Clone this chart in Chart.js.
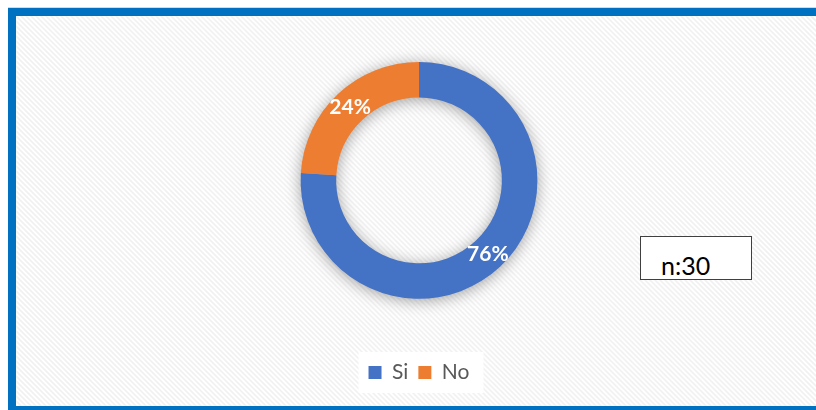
<!DOCTYPE html>
<html>
<head>
<meta charset="utf-8">
<script src="https://cdn.jsdelivr.net/npm/chart.js@4"></script>
<style>
    html, body { margin: 0; padding: 0; background: #fff; overflow: hidden; }
    #wrap { position: relative; width: 816px; height: 410px; overflow: hidden; }
    #chart { position: absolute; left: 0; top: 0; }
    #note {
        position: absolute; left: 640px; top: 236px; width: 110px; height: 42px;
        border: 1.5px solid #404040; background: #fff;
        font-family: Lato, "Open Sans", sans-serif; font-size: 25px; line-height: 30px;
        color: #000;
    }
    #note span { position: absolute; left: 20px; top: 13px; }
</style>
</head>
<body>
<div id="wrap">
    <canvas id="chart" width="816" height="410"></canvas>
    <div id="note"><span>n:30</span></div>
</div>
<script>
const categories = ['Si', 'No'];
const values = [76, 24];
const colors = ['#4472C4', '#ED7D31'];

// hatched plot background, white legend panel, ring shadow, labels, frame
const decorPlugin = {
    id: 'decor',
    beforeDraw(chart) {
        const ctx = chart.ctx;
        ctx.save();
        ctx.beginPath();
        ctx.rect(16, 16, 800, 390);
        ctx.clip();
        ctx.fillStyle = '#ffffff';
        ctx.fillRect(16, 16, 800, 390);
        ctx.strokeStyle = '#f1f1f1';
        ctx.lineWidth = 1.6;
        for (let k = -420; k < 820; k += 5) {
            ctx.beginPath();
            ctx.moveTo(k, 0);
            ctx.lineTo(k + 420, 420);
            ctx.stroke();
        }
        const boxes = chart.legend && chart.legend.legendHitBoxes;
        if (boxes && boxes.length) {
            const first = boxes[0];
            const last = boxes[boxes.length - 1];
            ctx.fillStyle = '#ffffff';
            ctx.fillRect(first.left - 10, first.top - 10, last.left + last.width - first.left + 24, first.height + 20);
        }
        ctx.restore();
    },
    beforeDatasetsDraw(chart) {
        const arcs = chart.getDatasetMeta(0).data;
        if (!arcs.length) return;
        const { x, y, outerRadius, innerRadius } = arcs[0].getProps(['x', 'y', 'outerRadius', 'innerRadius'], true);
        const ctx = chart.ctx;
        ctx.save();
        ctx.shadowColor = 'rgba(0,0,0,0.4)';
        ctx.shadowBlur = 16;
        ctx.shadowOffsetY = 2;
        ctx.fillStyle = '#9aa7c0';
        ctx.beginPath();
        ctx.arc(x, y, outerRadius - 1, 0, Math.PI * 2);
        ctx.arc(x, y, innerRadius + 1, 0, Math.PI * 2, true);
        ctx.fill();
        ctx.restore();
    },
    afterDatasetsDraw(chart) {
        const ctx = chart.ctx;
        ctx.save();
        ctx.fillStyle = '#ffffff';
        ctx.font = 'bold 21px Lato, "Open Sans", sans-serif';
        ctx.textAlign = 'center';
        ctx.textBaseline = 'middle';
        chart.getDatasetMeta(0).data.forEach((arc, i) => {
            const pos = arc.tooltipPosition();
            ctx.fillText(values[i] + '%', pos.x, pos.y);
        });
        ctx.restore();
    },
    afterDraw(chart) {
        const ctx = chart.ctx;
        ctx.save();
        ctx.fillStyle = '#0070C0';
        ctx.fillRect(8, 8, 808, 8);
        ctx.fillRect(8, 8, 8, 402);
        ctx.fillRect(8, 406, 808, 4);
        ctx.fillStyle = '#d9d9d9';
        ctx.fillRect(8, 7, 808, 1);
        ctx.restore();
    }
};

new Chart(document.getElementById('chart'), {
    type: 'doughnut',
    data: {
        labels: categories,
        datasets: [{
            data: values,
            backgroundColor: colors,
            borderWidth: 0,
            hoverOffset: 0
        }]
    },
    options: {
        responsive: false,
        animation: false,
        cutout: '70%',
        layout: { padding: { top: 62, left: 22, right: 0, bottom: 17 } },
        plugins: {
            tooltip: { enabled: false },
            legend: {
                position: 'bottom',
                title: { display: true, text: '', font: { size: 1 }, padding: { top: 52, bottom: 0 } },
                labels: {
                    boxWidth: 13,
                    boxHeight: 13,
                    padding: 10,
                    color: '#595959',
                    font: { family: 'Lato, "Open Sans", sans-serif', size: 21 }
                }
            }
        }
    },
    plugins: [decorPlugin]
});
</script>
</body>
</html>
